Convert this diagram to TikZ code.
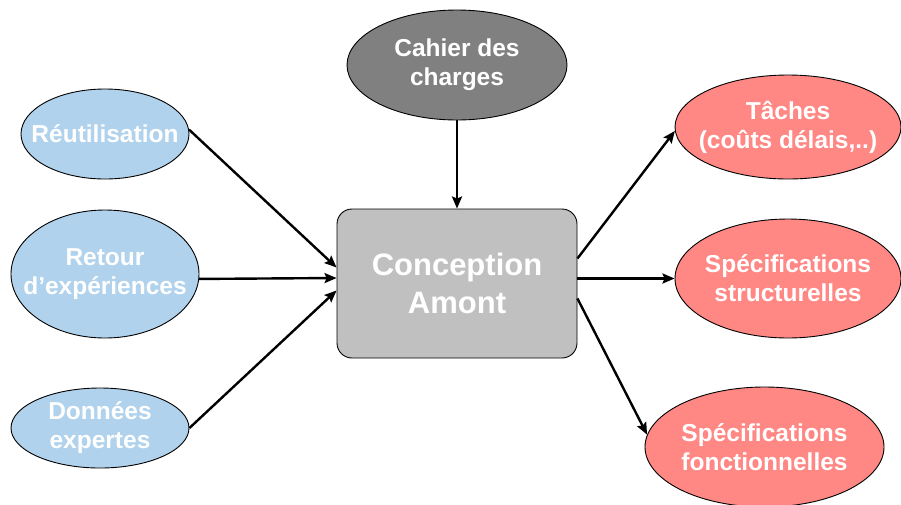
\documentclass[tikz,border=0pt]{standalone}
\usepackage{fontspec}
\setmainfont{Liberation Sans}
\usetikzlibrary{shapes.geometric,arrows.meta,calc}
\definecolor{blueF}{HTML}{B0D2EC}
\definecolor{redF}{HTML}{FF8784}
\definecolor{grayC}{HTML}{C0C0C0}
\definecolor{grayT}{HTML}{808080}
\begin{document}
\begin{tikzpicture}[x=1pt,y=-1pt,
  ell/.style={ellipse,draw=black,line width=0.9pt,inner sep=-30pt,align=center,text=white,
    font=\fontsize{24.5}{29}\selectfont\bfseries},
  arr/.style={line width=2.4pt,-{Stealth[length=12pt,width=10pt,inset=2pt]}}]
\useasboundingbox (0,0) rectangle (901,504);
\clip (0,0) rectangle (901,504);
\node[ell,fill=grayT,minimum width=220pt,minimum height=110pt] (cdc) at (457,65) {Cahier des\\charges};
\node[draw=black,line width=0.9pt,fill=grayC,rounded corners=15pt,minimum width=240pt,minimum height=149pt,
  align=center,text=white,font=\fontsize{31}{38}\selectfont\bfseries] (ctr) at (457,283.5) {Conception\\Amont};
\node[ell,fill=blueF,minimum width=168pt,minimum height=90pt] (reu) at (105,134) {Réutilisation};
\node[ell,fill=blueF,minimum width=188pt,minimum height=128pt] (ret) at (105,274) {Retour\\d’expériences};
\node[ell,fill=blueF,minimum width=178pt,minimum height=80pt] (don) at (100,428) {Données\\expertes};
\node[ell,fill=redF,minimum width=226pt,minimum height=104pt] (tac) at (788,127) {Tâches\\(coûts délais,..)};
\node[ell,fill=redF,minimum width=226pt,minimum height=119pt] (str) at (788,278.5) {Spécifications\\structurelles};
\node[ell,fill=redF,minimum width=239pt,minimum height=120pt] (fon) at (764.5,447) {Spécifications\\fonctionnelles};
\draw[arr] (cdc.south) -- (ctr.north);
\draw[arr] (reu.3) -- ([yshift=16pt]ctr.west);
\draw[arr] (ret.-3) -- ([yshift=5.5pt]ctr.west);
\draw[arr] (don.east) -- ([yshift=-7pt]ctr.west);
\draw[arr] ([yshift=25pt]ctr.east) -- (tac.-178);
\draw[arr] ([yshift=5pt]ctr.east) -- (str.west);
\draw[arr] ([yshift=-15pt]ctr.east) -- (fon.174);
\end{tikzpicture}
\end{document}
